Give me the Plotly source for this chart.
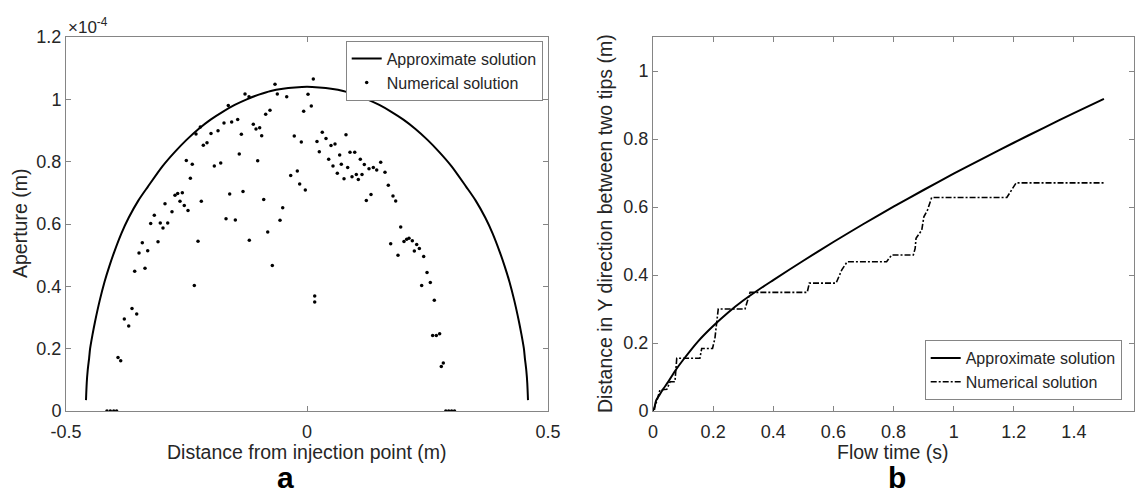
import plotly.graph_objects as go

# ---------------- Panel a data ----------------
approx_x = [-0.4585, -0.457, -0.455, -0.452, -0.45, -0.445, -0.44, -0.43, -0.42, -0.41, -0.40,
            -0.385, -0.37, -0.35, -0.33, -0.30, -0.275, -0.25, -0.225, -0.20, -0.175, -0.15,
            -0.125, -0.10, -0.075, -0.05, -0.025, 0.0,
            0.025, 0.05, 0.075, 0.10, 0.125, 0.15, 0.175, 0.20, 0.225, 0.25, 0.275, 0.30,
            0.33, 0.35, 0.37, 0.385, 0.40, 0.41, 0.42, 0.43, 0.44, 0.445, 0.45, 0.452,
            0.455, 0.457, 0.4585]
approx_ap = [0.035, 0.09, 0.13, 0.17, 0.20, 0.245, 0.285, 0.355, 0.415, 0.465, 0.51,
             0.57, 0.62, 0.675, 0.72, 0.785, 0.83, 0.87, 0.905, 0.935, 0.96, 0.982,
             1.0, 1.015, 1.027, 1.034, 1.038, 1.04,
             1.038, 1.034, 1.027, 1.015, 1.0, 0.982, 0.96, 0.935, 0.905, 0.87, 0.83, 0.785,
             0.72, 0.675, 0.62, 0.57, 0.51, 0.465, 0.415, 0.355, 0.285, 0.245, 0.20, 0.17,
             0.13, 0.09, 0.035]

num_x = [-0.0664, -0.1286, -0.1203, -0.1633, -0.2213, -0.2303, -0.0768, -0.0857, -0.1438, -0.1563,
         -0.1722, -0.1114, -0.1058, -0.0982, -0.0940, -0.1846, -0.1992, -0.1362, -0.2075, -0.2151,
         -0.1405, -0.2504, -0.2380, -0.1790, -0.1923, -0.1023, -0.2420, -0.1328, -0.1604, -0.2739,
         -0.2683, -0.2587, -0.2635, -0.2546, -0.2469, -0.2193, -0.0898, -0.2946, -0.2801, -0.3168,
         -0.3243, -0.3044, -0.2890, -0.1680, -0.1487,
         0.0131, -0.0616, -0.0421, 0.0021, -0.0069, 0.0089, -0.0264, -0.0118, 0.0317, 0.0394,
         0.0809, 0.0207, 0.0498, 0.0581, 0.0255, 0.0678, 0.0892, 0.0990, 0.0450, 0.1106,
         0.0712, 0.0539, 0.1189, 0.0844, 0.1529, 0.1286, 0.1376, 0.1446, 0.1618, 0.0629,
         0.0934, 0.1023, 0.1065, 0.1141, 0.0768, -0.0338, -0.0201, -0.0152, -0.0035, 0.1687,
         0.1784, 0.1840, 0.1328, 0.1231, -0.0504, -0.0560,
         -0.2988, -0.3417, -0.3091, -0.3485, -0.3305, -0.3575, -0.3361, -0.2261, -0.2338, -0.1197,
         -0.0815, -0.0720, -0.3631, -0.3790, -0.3533, -0.3699, -0.3921, -0.3865,
         -0.415, -0.408, -0.401, -0.395,
         0.0160, 0.0160, 0.1944, 0.1736, 0.2012, 0.2068, 0.2116, 0.2185, 0.2276, 0.2331,
         0.2227, 0.1888, 0.2421, 0.2490, 0.2558, 0.2379, 0.2641, 0.2607, 0.2683, 0.2752,
         0.2786, 0.2828,
         0.288, 0.294, 0.300, 0.306]
num_ap = [1.048, 1.017, 1.008, 0.980, 0.911, 0.889, 0.965, 0.952, 0.935, 0.927,
          0.924, 0.920, 0.905, 0.909, 0.883, 0.899, 0.890, 0.888, 0.861, 0.853,
          0.825, 0.804, 0.792, 0.796, 0.786, 0.803, 0.747, 0.704, 0.696, 0.692,
          0.698, 0.700, 0.673, 0.659, 0.643, 0.673, 0.679, 0.665, 0.639, 0.628,
          0.602, 0.603, 0.603, 0.617, 0.613,
          1.065, 1.017, 1.008, 1.016, 0.962, 0.979, 0.882, 0.863, 0.894, 0.874,
          0.886, 0.865, 0.852, 0.857, 0.832, 0.821, 0.830, 0.830, 0.808, 0.808,
          0.792, 0.786, 0.791, 0.781, 0.798, 0.777, 0.781, 0.773, 0.766, 0.763,
          0.752, 0.759, 0.743, 0.759, 0.745, 0.756, 0.770, 0.728, 0.709, 0.724,
          0.690, 0.674, 0.695, 0.675, 0.652, 0.612,
          0.587, 0.540, 0.543, 0.507, 0.514, 0.448, 0.458, 0.545, 0.403, 0.548,
          0.574, 0.467, 0.329, 0.295, 0.311, 0.273, 0.172, 0.161,
          0.0, 0.0, 0.0, 0.0,
          0.369, 0.350, 0.590, 0.537, 0.544, 0.551, 0.554, 0.546, 0.534, 0.521,
          0.513, 0.500, 0.496, 0.444, 0.412, 0.403, 0.355, 0.242, 0.242, 0.248,
          0.143, 0.154,
          0.0, 0.0, 0.0, 0.0]

a_xticks = [-0.5, 0, 0.5]
a_xticklabels = ["-0.5", "0", "0.5"]
a_yticks = [0, 0.2, 0.4, 0.6, 0.8, 1.0, 1.2]
a_yticklabels = ["0", "0.2", "0.4", "0.6", "0.8", "1", "1.2"]

# ---------------- Panel b data ----------------
approx_t = [0.004, 0.01, 0.02, 0.035, 0.05, 0.075, 0.1, 0.15, 0.2, 0.25, 0.3, 0.35, 0.4, 0.5,
            0.6, 0.7, 0.8, 0.9, 1.0, 1.1, 1.2, 1.3, 1.4, 1.5]
approx_d = [0.003, 0.03, 0.045, 0.066, 0.085, 0.12, 0.15, 0.205, 0.25, 0.29, 0.325, 0.356,
            0.385, 0.442, 0.497, 0.550, 0.601, 0.650, 0.698, 0.744, 0.789, 0.833, 0.876, 0.918]

num_t = [0.0, 0.012, 0.023, 0.046, 0.057, 0.073, 0.079, 0.156, 0.162, 0.198, 0.206,
         0.217, 0.306, 0.323, 0.513, 0.520, 0.609, 0.628, 0.646, 0.777, 0.794, 0.866,
         0.872, 0.875, 0.894, 0.901, 0.913, 0.927, 1.177, 1.208, 1.5]
num_d = [0.0, 0.027, 0.062, 0.064, 0.086, 0.086, 0.155, 0.155, 0.184, 0.184, 0.214,
         0.300, 0.300, 0.349, 0.349, 0.376, 0.376, 0.415, 0.439, 0.439, 0.459, 0.459,
         0.478, 0.508, 0.532, 0.571, 0.591, 0.628, 0.628, 0.671, 0.671]

b_xticks = [0, 0.2, 0.4, 0.6, 0.8, 1.0, 1.2, 1.4, 1.6]
b_xticklabels = ["0", "0.2", "0.4", "0.6", "0.8", "1", "1.2", "1.4", "1.6"]
b_yticks = [0, 0.2, 0.4, 0.6, 0.8, 1.0]
b_yticklabels = ["0", "0.2", "0.4", "0.6", "0.8", "1"]

FONT = "Arial, Liberation Sans, sans-serif"
TXT = "#262626"
AX = "#858585"
W, H = 1145, 495

fig = go.Figure()
fig.add_trace(go.Scatter(x=approx_x, y=approx_ap, mode="lines", name="Approximate solution",
                         line=dict(color="black", width=2, shape="spline", smoothing=0.8),
                         xaxis="x", yaxis="y", legend="legend"))
fig.add_trace(go.Scatter(x=num_x, y=num_ap, mode="markers", name="Numerical solution",
                         marker=dict(color="black", size=3.5),
                         xaxis="x", yaxis="y", legend="legend"))
fig.add_trace(go.Scatter(x=approx_t, y=approx_d, mode="lines", name="Approximate solution",
                         line=dict(color="black", width=2, shape="spline", smoothing=0.8),
                         xaxis="x2", yaxis="y2", legend="legend2"))
fig.add_trace(go.Scatter(x=num_t, y=num_d, mode="lines", name="Numerical solution",
                         line=dict(color="black", width=1.6, dash="6px,2px,2px,2px"),
                         xaxis="x2", yaxis="y2", legend="legend2"))

axis_common = dict(showline=True, linecolor=AX, linewidth=1, mirror="ticks",
                   ticks="inside", ticklen=5, tickcolor=AX, showgrid=False, zeroline=False,
                   automargin=False,
                   tickfont=dict(family=FONT, size=18, color=TXT))

x0a, x1a = 66 / W, 548 / W
x0b, x1b = 653 / W, 1134 / W
y0, y1 = (H - 411) / H, (H - 37) / H


def ann(text, x, y, size, color=TXT, angle=0, xanchor="center"):
    return dict(text=text, x=x / W, y=(H - y) / H, xref="paper", yref="paper",
                xanchor=xanchor, yanchor="middle", showarrow=False, textangle=angle,
                font=dict(family=FONT, size=size, color=color))


fig.update_layout(
    width=W, height=H,
    margin=dict(l=0, r=0, t=0, b=0, autoexpand=False),
    paper_bgcolor="white", plot_bgcolor="white",
    font=dict(family=FONT, color=TXT),
    showlegend=True,
    xaxis=dict(domain=[x0a, x1a], range=[-0.5, 0.5], tickvals=a_xticks,
               ticktext=a_xticklabels, anchor="y", ticklabelstandoff=4, **axis_common),
    yaxis=dict(domain=[y0, y1], range=[0, 1.2], tickvals=a_yticks, ticktext=a_yticklabels,
               anchor="x", **axis_common),
    xaxis2=dict(domain=[x0b, x1b], range=[0, 1.6], tickvals=b_xticks,
                ticktext=b_xticklabels, anchor="y2", ticklabelstandoff=4, **axis_common),
    yaxis2=dict(domain=[y0, y1], range=[0, 1.1], tickvals=b_yticks,
                ticktext=b_yticklabels, anchor="x2", **axis_common),
    legend=dict(x=542.7 / W, y=(H - 40.7) / H, xanchor="right", yanchor="top",
                bgcolor="white", bordercolor=AX, borderwidth=1,
                font=dict(family=FONT, size=16, color=TXT), tracegroupgap=0),
    legend2=dict(x=1121.7 / W, y=(H - 400) / H, xanchor="right", yanchor="bottom",
                 bgcolor="white", bordercolor=AX, borderwidth=1,
                 font=dict(family=FONT, size=16, color=TXT), tracegroupgap=0),
    annotations=[
        ann("Distance from injection point (m)", 307, 452, 19.5),
        ann("Aperture (m)", 20, 224, 19.5, angle=-90),
        ann("Flow time (s)", 893, 452, 19.5),
        ann("Distance in Y direction between two tips (m)", 605, 224, 19.5, angle=-90),
        ann("×10<sup>-4</sup>", 66, 26, 17, xanchor="left"),
        ann("<b>a</b>", 285, 477, 30, color="black"),
        ann("<b>b</b>", 897, 477, 30, color="black"),
    ],
)

fig.write_html("out.html")
